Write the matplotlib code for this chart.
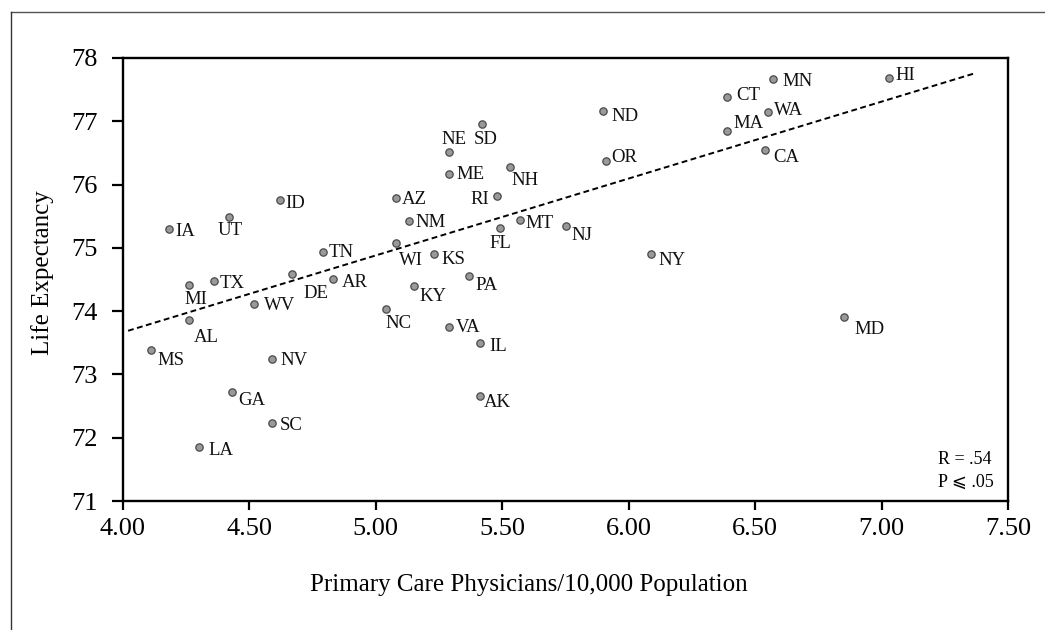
import numpy as np
import matplotlib
matplotlib.use('Agg')
import matplotlib.pyplot as plt
from matplotlib.lines import Line2D

plt.rcParams['font.family'] = ['Liberation Serif', 'DejaVu Serif', 'DejaVu Sans']

# data
states = ['IA', 'UT', 'ID', 'AZ', 'NM', 'TN', 'WI', 'MI', 'TX', 'DE', 'AR', 'KY',
          'KS', 'NE', 'SD', 'ME', 'NH', 'RI', 'MT', 'FL', 'NJ', 'ND', 'OR', 'NY',
          'PA', 'CT', 'MA', 'MN', 'HI', 'WA', 'CA', 'WV', 'AL', 'MS', 'NV', 'GA',
          'SC', 'LA', 'NC', 'VA', 'IL', 'AK', 'MD']
physicians = [4.18, 4.42, 4.62, 5.08, 5.13, 4.79, 5.08, 4.26, 4.36, 4.67, 4.83, 5.15,
              5.23, 5.29, 5.42, 5.29, 5.53, 5.48, 5.57, 5.49, 5.75, 5.90, 5.91, 6.09,
              5.37, 6.39, 6.39, 6.57, 7.03, 6.55, 6.54, 4.52, 4.26, 4.11, 4.59, 4.43,
              4.59, 4.30, 5.04, 5.29, 5.41, 5.41, 6.85]
life_exp = [75.30, 75.49, 75.75, 75.79, 75.43, 74.94, 75.08, 74.42, 74.47, 74.58, 74.51, 74.40,
            74.91, 76.52, 76.95, 76.17, 76.28, 75.82, 75.44, 75.32, 75.35, 77.17, 76.38, 74.91,
            74.55, 77.38, 76.84, 77.67, 77.68, 77.14, 76.55, 74.11, 73.86, 73.38, 73.24, 72.73,
            72.24, 71.85, 74.04, 73.75, 73.49, 72.66, 73.90]
trend_x = [4.02, 7.37]
trend_y = [73.69, 77.76]
x_ticks = [4.0, 4.5, 5.0, 5.5, 6.0, 6.5, 7.0, 7.5]
y_ticks = [71, 72, 73, 74, 75, 76, 77, 78]

# label placement: pixel offset from the dot, horizontal alignment
label_offsets = {
    'IA': (7, -2, 'left'), 'UT': (1, -13, 'center'), 'ID': (6, -2, 'left'),
    'AZ': (6, -1, 'left'), 'NM': (7, -1, 'left'), 'TN': (6, 0, 'left'),
    'WI': (3, -17, 'left'), 'MI': (-4, -14, 'left'), 'TX': (6, -1, 'left'),
    'DE': (11, -18, 'left'), 'AR': (9, -3, 'left'), 'KY': (6, -10, 'left'),
    'KS': (7, -5, 'left'), 'NE': (-8, 13, 'left'), 'SD': (-8, -14, 'left'),
    'ME': (7, 0, 'left'), 'NH': (2, -13, 'left'), 'RI': (-8, -3, 'right'),
    'MT': (5, -2, 'left'), 'FL': (1, -15, 'center'), 'NJ': (6, -9, 'left'),
    'ND': (8, -5, 'left'), 'OR': (5, 4, 'left'), 'NY': (7, -6, 'left'),
    'PA': (6, -8, 'left'), 'CT': (9, 3, 'left'), 'MA': (6, 9, 'left'),
    'MN': (10, -2, 'left'), 'HI': (6, 4, 'left'), 'WA': (6, 3, 'left'),
    'CA': (8, -7, 'left'), 'WV': (9, 0, 'left'), 'AL': (5, -16, 'left'),
    'MS': (7, -9, 'left'), 'NV': (8, 0, 'left'), 'GA': (7, -8, 'left'),
    'SC': (8, -2, 'left'), 'LA': (10, -2, 'left'), 'NC': (-1, -14, 'left'),
    'VA': (7, 0, 'left'), 'IL': (10, -2, 'left'), 'AK': (4, -6, 'left'),
    'MD': (11, -11, 'left'),
}

fig = plt.figure(figsize=(10.45, 6.3), dpi=100)
ax = fig.add_axes([123/1045, 1 - 501/630, (1008 - 123)/1045, (501 - 58)/630])

ax.plot(trend_x, trend_y, color='black', lw=1.4, dashes=(3.0, 1.8), zorder=2)
ax.scatter(physicians, life_exp, s=28, facecolor='#999999', edgecolor='#4a4a4a',
           linewidth=0.9, zorder=3)

for st, xv, yv in zip(states, physicians, life_exp):
    dx, dy, ha = label_offsets[st]
    ax.annotate(st, (xv, yv), xytext=(dx, dy - 1), textcoords='offset pixels',
                ha=ha, va='center', fontsize=13.5, color='#111111')

ax.set_xlim(4.0, 7.5)
ax.set_ylim(71, 78)
ax.set_xticks(x_ticks)
ax.set_xticklabels(['%.2f' % v for v in x_ticks])
ax.set_yticks(y_ticks)
ax.tick_params(axis='y', direction='out', length=8, width=1.6, pad=10, labelsize=19)
ax.tick_params(axis='x', direction='out', length=6.5, width=1.6, pad=6, labelsize=19)
for sp in ax.spines.values():
    sp.set_linewidth(1.7)

ax.set_xlabel('Primary Care Physicians/10,000 Population', fontsize=18)
ax.xaxis.set_label_coords(0.4588, -0.1896)
ax.xaxis.label.set_va('center')
ax.set_ylabel('Life Expectancy', fontsize=18)
ax.yaxis.set_label_coords(-0.0904, 0.5147)
ax.yaxis.label.set_va('center')

ax.text(0.921, 0.0926, 'R = .54', transform=ax.transAxes, fontsize=13,
        ha='left', va='center')
ax.text(0.921, 0.0429, 'P \u2a7d .05', transform=ax.transAxes, fontsize=13,
        ha='left', va='center')

# cropped outer frame
fig.add_artist(Line2D([10.5/1045, 1], [1 - 12/630, 1 - 12/630],
                      transform=fig.transFigure, color='#555555', lw=1))
fig.add_artist(Line2D([10.5/1045, 10.5/1045], [0, 1 - 12/630],
                      transform=fig.transFigure, color='#333333', lw=1))

fig.savefig('out.png', dpi=100)
